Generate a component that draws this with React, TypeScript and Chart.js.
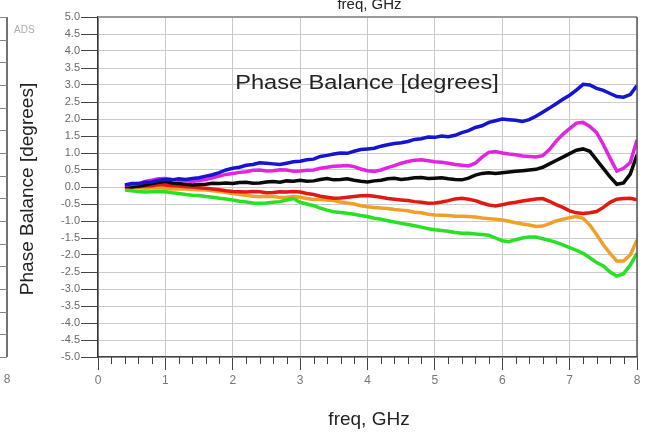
import React, { useEffect, useRef } from "react";
import { Chart, registerables } from "chart.js";
Chart.register(...registerables);

const freq = [0.4, 0.5, 0.6, 0.7, 0.8, 0.9, 1.0, 1.1, 1.2, 1.3, 1.4, 1.5, 1.6, 1.7, 1.8, 1.9, 2.0, 2.1, 2.2, 2.3, 2.4, 2.5, 2.6, 2.7, 2.8, 2.9, 3.0, 3.1, 3.2, 3.3, 3.4, 3.5, 3.6, 3.7, 3.8, 3.9, 4.0, 4.1, 4.2, 4.3, 4.4, 4.5, 4.6, 4.7, 4.8, 4.9, 5.0, 5.1, 5.2, 5.3, 5.4, 5.5, 5.6, 5.7, 5.8, 5.9, 6.0, 6.1, 6.2, 6.3, 6.4, 6.5, 6.6, 6.7, 6.8, 6.9, 7.0, 7.1, 7.2, 7.3, 7.4, 7.5, 7.6, 7.7, 7.8, 7.9, 8.0];

const blueSeries = [0.06, 0.1, 0.1, 0.14, 0.15, 0.2, 0.22, 0.21, 0.24, 0.22, 0.25, 0.27, 0.32, 0.36, 0.42, 0.5, 0.55, 0.58, 0.64, 0.66, 0.71, 0.7, 0.68, 0.66, 0.7, 0.74, 0.76, 0.8, 0.82, 0.9, 0.93, 0.97, 1.0, 0.99, 1.05, 1.1, 1.12, 1.14, 1.2, 1.24, 1.28, 1.3, 1.34, 1.4, 1.42, 1.47, 1.46, 1.5, 1.48, 1.52, 1.6, 1.66, 1.75, 1.8, 1.9, 1.95, 2.0, 1.98, 1.96, 1.93, 1.98, 2.08, 2.2, 2.32, 2.45, 2.58, 2.7, 2.85, 3.02, 3.0, 2.9, 2.84, 2.75, 2.66, 2.64, 2.72, 2.98];
const magentaSeries = [0.04, 0.08, 0.1, 0.16, 0.2, 0.24, 0.25, 0.22, 0.2, 0.18, 0.16, 0.19, 0.22, 0.27, 0.32, 0.37, 0.4, 0.43, 0.45, 0.49, 0.5, 0.47, 0.48, 0.51, 0.5, 0.46, 0.47, 0.49, 0.5, 0.55, 0.58, 0.61, 0.62, 0.63, 0.6, 0.53, 0.48, 0.46, 0.5, 0.57, 0.63, 0.7, 0.75, 0.79, 0.8, 0.77, 0.74, 0.73, 0.7, 0.66, 0.64, 0.62, 0.7, 0.88, 1.02, 1.04, 1.0, 0.97, 0.95, 0.91, 0.9, 0.88, 0.92, 1.1, 1.35, 1.55, 1.72, 1.88, 1.9, 1.78, 1.6, 1.25, 0.85, 0.47, 0.55, 0.72, 1.38];
const blackSeries = [0.02, 0.0, 0.03, 0.06, 0.1, 0.14, 0.16, 0.12, 0.1, 0.08, 0.06, 0.07, 0.08, 0.11, 0.1, 0.12, 0.1, 0.13, 0.14, 0.11, 0.12, 0.15, 0.16, 0.14, 0.18, 0.17, 0.2, 0.17, 0.18, 0.22, 0.25, 0.21, 0.22, 0.24, 0.2, 0.17, 0.15, 0.18, 0.2, 0.24, 0.26, 0.22, 0.24, 0.27, 0.28, 0.25, 0.26, 0.27, 0.24, 0.22, 0.21, 0.26, 0.35, 0.4, 0.42, 0.4, 0.42, 0.44, 0.46, 0.48, 0.5, 0.52, 0.58, 0.68, 0.78, 0.88, 0.98, 1.08, 1.12, 1.05, 0.8, 0.55, 0.3, 0.08, 0.12, 0.38, 0.95];
const redSeries = [0.0, 0.02, 0.01, 0.03, 0.04, 0.07, 0.06, 0.04, 0.03, 0.01, 0.0, -0.02, -0.04, -0.06, -0.08, -0.11, -0.13, -0.14, -0.15, -0.13, -0.14, -0.17, -0.16, -0.14, -0.15, -0.13, -0.15, -0.19, -0.22, -0.27, -0.3, -0.33, -0.32, -0.3, -0.28, -0.26, -0.25, -0.27, -0.3, -0.34, -0.36, -0.38, -0.4, -0.43, -0.45, -0.48, -0.47, -0.44, -0.4, -0.35, -0.33, -0.36, -0.4, -0.47, -0.53, -0.56, -0.52, -0.48, -0.45, -0.41, -0.38, -0.35, -0.34, -0.42, -0.52, -0.6, -0.7, -0.76, -0.78, -0.76, -0.72, -0.6, -0.45, -0.36, -0.34, -0.33, -0.38];
const orangeSeries = [-0.03, -0.01, -0.02, -0.04, -0.03, -0.02, -0.04, -0.06, -0.05, -0.06, -0.07, -0.08, -0.09, -0.11, -0.13, -0.16, -0.19, -0.22, -0.24, -0.27, -0.29, -0.27, -0.28, -0.31, -0.3, -0.28, -0.3, -0.34, -0.37, -0.36, -0.38, -0.4, -0.44, -0.47, -0.5, -0.55, -0.58, -0.6, -0.62, -0.63, -0.66, -0.68, -0.7, -0.74, -0.76, -0.8, -0.82, -0.83, -0.84, -0.86, -0.86, -0.87, -0.88, -0.91, -0.93, -0.95, -0.97, -1.01, -1.05, -1.09, -1.12, -1.16, -1.15, -1.08, -1.0, -0.95, -0.9, -0.87, -0.92, -1.12, -1.4, -1.7, -1.95, -2.18, -2.18, -2.0, -1.56];
const greenSeries = [-0.09, -0.11, -0.13, -0.15, -0.14, -0.13, -0.14, -0.17, -0.19, -0.22, -0.24, -0.25, -0.28, -0.3, -0.33, -0.35, -0.38, -0.42, -0.44, -0.47, -0.48, -0.47, -0.45, -0.43, -0.38, -0.34, -0.45, -0.5, -0.55, -0.62, -0.68, -0.73, -0.75, -0.77, -0.8, -0.84, -0.87, -0.92, -0.95, -0.99, -1.03, -1.07, -1.1, -1.14, -1.18, -1.23, -1.26, -1.28, -1.3, -1.34, -1.36, -1.36, -1.38, -1.4, -1.42, -1.5, -1.58, -1.61, -1.55, -1.5, -1.47, -1.47, -1.52, -1.57, -1.63, -1.7, -1.78, -1.86, -1.95, -2.08, -2.22, -2.32, -2.5, -2.62, -2.55, -2.3, -1.95];

const xTickLabels = ["0", "1", "2", "3", "4", "5", "6", "7", "8"];
const titleText = "Phase Balance [degrees]";
const xTitle = "freq, GHz";

const FONT = "'Liberation Sans', Arial, sans-serif";

const isInt = (v: number) => Math.abs(v - Math.round(v)) < 1e-6;

const decor = {
  id: "decor",
  beforeDraw(chart: any) {
    const ctx = chart.ctx;
    ctx.save();
    ctx.fillStyle = "#ffffff";
    ctx.fillRect(0, 0, chart.width, chart.height);
    ctx.restore();
  },
  afterDraw(chart: any) {
    const ctx = chart.ctx;
    const { left, right, top, bottom } = chart.chartArea;
    const xs = chart.scales.x;
    ctx.save();
    // minor ticks on x axis
    ctx.strokeStyle = "#444";
    ctx.lineWidth = 1;
    for (let i = 0; i <= 40; i++) {
      if (i % 5 === 0) continue;
      const px = Math.round(xs.getPixelForValue(i * 0.2)) + 0.5;
      ctx.beginPath();
      ctx.moveTo(px, bottom);
      ctx.lineTo(px, bottom + 7);
      ctx.stroke();
    }
    // top and right border
    ctx.strokeStyle = "#9a9a9a";
    ctx.lineWidth = 2;
    ctx.beginPath();
    ctx.moveTo(left, top);
    ctx.lineTo(right, top);
    ctx.stroke();
    ctx.strokeStyle = "#555";
    ctx.lineWidth = 1.5;
    ctx.beginPath();
    ctx.moveTo(right, top);
    ctx.lineTo(right, bottom);
    ctx.stroke();

    // in-plot title
    ctx.fillStyle = "#222";
    ctx.font = `20px ${FONT}`;
    ctx.textAlign = "center";
    ctx.textBaseline = "middle";
    ctx.save();
    ctx.translate(367, 83);
    ctx.scale(1.18, 1);
    ctx.fillText(titleText, 0, 0);
    ctx.restore();

    // x title
    ctx.font = `19px ${FONT}`;
    ctx.fillStyle = "#222";
    ctx.fillText(xTitle, 369, 420);

    // y title
    ctx.save();
    ctx.translate(28, 189);
    ctx.rotate(-Math.PI / 2);
    ctx.font = `19px ${FONT}`;
    ctx.fillText(titleText, 0, 0);
    ctx.restore();

    // neighbouring plot fragments
    ctx.font = `15px ${FONT}`;
    ctx.textBaseline = "alphabetic";
    ctx.fillText(xTitle, (left + right) / 2 + 2, 9);
    ctx.font = `10px ${FONT}`;
    ctx.fillStyle = "#aaa";
    ctx.textAlign = "left";
    ctx.textBaseline = "middle";
    ctx.fillText("ADS", 14, 30);
    ctx.strokeStyle = "#444";
    ctx.lineWidth = 1.5;
    ctx.beginPath();
    ctx.moveTo(7, top);
    ctx.lineTo(7, bottom);
    ctx.stroke();
    ctx.lineWidth = 1;
    ctx.strokeStyle = "#888";
    for (let k = 0; k <= 15; k++) {
      const py = Math.round(top + (k * (bottom - top)) / 15) + 0.5;
      ctx.beginPath();
      ctx.moveTo(0, py);
      ctx.lineTo(7, py);
      ctx.stroke();
    }
    ctx.fillStyle = "#777";
    ctx.font = `12px ${FONT}`;
    ctx.textAlign = "center";
    ctx.fillText(xTickLabels[8], 7, 380);
    ctx.restore();
  },
};

export default function App() {
  const ref = useRef<HTMLCanvasElement | null>(null);
  useEffect(() => {
    if (!ref.current) return;
    const mk = (label: string, data: number[], color: string) => ({
      label,
      data: freq.map((f, i) => ({ x: f, y: data[i] })),
      borderColor: color,
      backgroundColor: color,
      borderWidth: 3.5,
      pointRadius: 0,
      tension: 0,
    });
    const chart = new Chart(ref.current, {
      type: "line",
      data: {
        datasets: [
          mk("blue", blueSeries, "#1414d2"),
          mk("magenta", magentaSeries, "#e024e0"),
          mk("black", blackSeries, "#0a0a0a"),
          mk("red", redSeries, "#e01a12"),
          mk("green", greenSeries, "#28e024"),
          mk("orange", orangeSeries, "#f0a028"),
        ],
      },
      options: {
        responsive: false,
        animation: false,
        layout: { padding: { left: 0, top: 17, right: 17, bottom: 0 } },
        plugins: { legend: { display: false }, tooltip: { enabled: false }, title: { display: false } },
        scales: {
          x: {
            type: "linear",
            min: 0,
            max: 8,
            afterFit: (s: any) => {
              s.height = 75;
            },
            afterBuildTicks: (s: any) => {
              const t = [];
              for (let i = 0; i <= 40; i++) t.push({ value: i * 0.2 });
              s.ticks = t;
            },
            ticks: {
              autoSkip: false,
              maxRotation: 0,
              padding: 3,
              color: "#777",
              font: { family: FONT, size: 12 },
              callback: (v: any) => (isInt(Number(v)) ? xTickLabels[Math.round(Number(v))] : ""),
            },
            grid: {
              color: (c: any) => (c.tick && isInt(c.tick.value) ? "#c8c8c8" : "rgba(0,0,0,0)"),
              tickColor: (c: any) => (c.tick && isInt(c.tick.value) ? "#444" : "rgba(0,0,0,0)"),
              tickLength: 13,
              lineWidth: 1,
            },
            border: { color: "#444", width: 1.5 },
          },
          y: {
            type: "linear",
            min: -5,
            max: 5,
            afterFit: (s: any) => {
              s.width = 98;
            },
            ticks: {
              stepSize: 0.5,
              autoSkip: false,
              padding: 1,
              color: "#6a6a6a",
              font: { family: FONT, size: 11 },
              callback: (v: any) => Number(v).toFixed(1),
            },
            grid: { color: "#cccccc", tickColor: "#444", tickLength: 17, lineWidth: 1 },
            border: { color: "#333", width: 1.5 },
          },
        },
      },
      plugins: [decor],
    } as any);
    return () => chart.destroy();
  }, []);
  return (
    <div style={{ position: "fixed", left: 0, top: 0, width: 654, height: 432, background: "#fff" }}>
      <canvas ref={ref} width={654} height={432} style={{ display: "block", width: 654, height: 432 }} />
    </div>
  );
}
